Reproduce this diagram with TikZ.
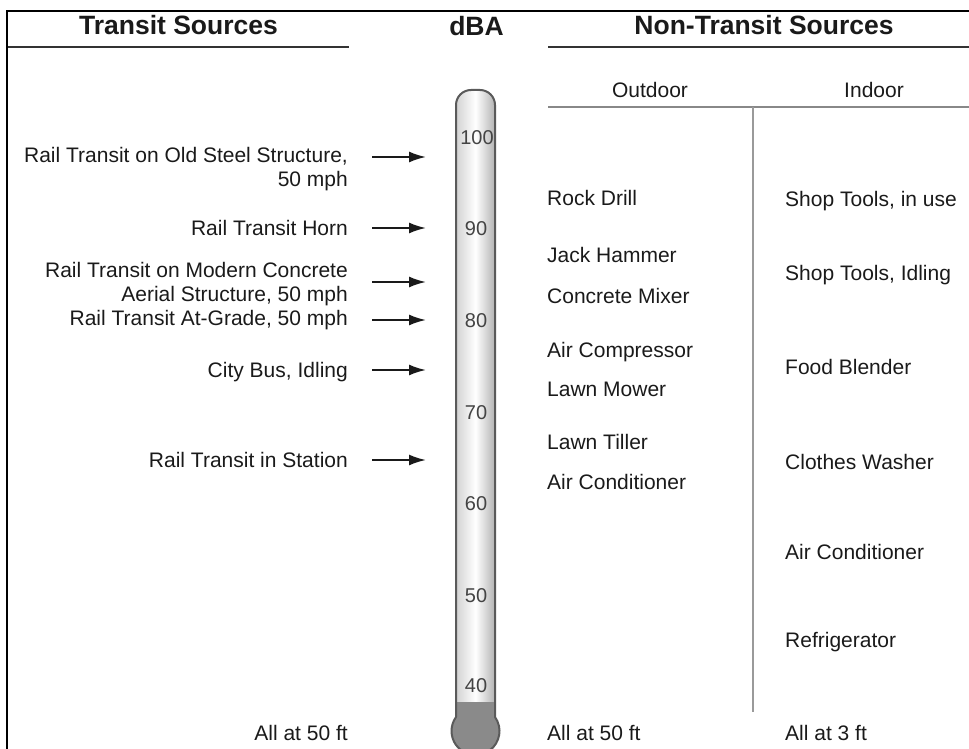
\documentclass[tikz,border=0pt]{standalone}
\usepackage{fontspec}
\setmainfont{Liberation Sans}
\usetikzlibrary{arrows.meta}
\definecolor{txt}{HTML}{1A1A1A}
\definecolor{numc}{HTML}{444444}
\definecolor{merc}{HTML}{8A8A8A}
\definecolor{tubeline}{HTML}{5A5A5A}
\definecolor{rulec}{HTML}{333333}
\definecolor{thinrule}{HTML}{888888}
\begin{document}
\begin{tikzpicture}[x=1pt,y=-1pt,
  lbl/.style={font=\fontsize{21}{24}\selectfont, text=txt, inner sep=0pt},
  lr/.style={lbl, anchor=mid east},
  lr2/.style={lbl, anchor=east, align=right},
  ll/.style={lbl, anchor=mid west},
  lc/.style={lbl, anchor=mid},
  hdr/.style={font=\fontsize{26.5}{30}\selectfont\bfseries, text=txt, inner sep=0pt, anchor=mid},
  scalenum/.style={font=\fontsize{20}{24}\selectfont, text=numc, inner sep=0pt, anchor=mid},
  arr/.style={-{Latex[length=17pt,width=11pt]}, line width=2pt, draw=txt},
  hrule/.style={draw=rulec, line width=1.5pt},
  thin/.style={draw=thinrule, line width=1.3pt},
  vrule/.style={draw=thinrule!85, line width=2pt},
  frame/.style={draw=black, line width=2.5pt}
]
\useasboundingbox (0,0) rectangle (969,749);

% frame
\draw[frame] (7,749) -- (7,11) -- (969,11);

% headers
\node[hdr] (ht) at (178.5,32) {Transit Sources};
\node[hdr] (hd) at (476.5,33) {dBA};
\node[hdr] (hn) at (764,32) {Non-Transit Sources};
\draw[hrule] (8,47) -- (349,47);
\draw[hrule] (548,47) -- (969,47);

\node[lc] (ho) at (650,95) {Outdoor};
\node[lc] (hi) at (874,95) {Indoor};
\draw[thin] (548,107) -- (969,107);
\draw[vrule] (753,107) -- (753,712);

% thermometer
\shade[left color=gray!35, right color=gray!60, middle color=white]
  (456,717) [rounded corners=15pt] -- (456,90) -- (495,90) [sharp corners] -- (495,717) -- cycle;
\fill[merc] (456,702) -- (495,702) -- (495,717)
  arc[start angle=35.7, end angle=-215.7, radius=24pt] -- cycle;
\draw[draw=tubeline, line width=2pt]
  (456,717) [rounded corners=15pt] -- (456,90) -- (495,90) [sharp corners] -- (495,717)
  arc[start angle=35.7, end angle=-215.7, radius=24pt];

\node[scalenum] (s100) at (477,142) {100};
\node[scalenum] (s90) at (476,233) {90};
\node[scalenum] (s80) at (476,325) {80};
\node[scalenum] (s70) at (476,417) {70};
\node[scalenum] (s60) at (476,508) {60};
\node[scalenum] (s50) at (476,600) {50};
\node[scalenum] (s40) at (476,690) {40};

% transit sources
\node[lr2] (l1) at (348,169.5) {Rail Transit on Old Steel Structure,\\50 mph};
\node[lr] (l2) at (348,233) {Rail Transit Horn};
\node[lr2] (l3) at (348,284.5) {Rail Transit on Modern Concrete\\Aerial Structure, 50 mph};
\node[lr] (l4) at (348,323) {Rail Transit At-Grade, 50 mph};
\node[lr] (l5) at (348,375) {City Bus, Idling};
\node[lr] (l6) at (348,465) {Rail Transit in Station};
\node[lr] (b1) at (348,738) {All at 50 ft};

\coordinate (a1s) at (372,157); \coordinate (a1e) at (426,157);
\coordinate (a2s) at (372,228); \coordinate (a2e) at (426,228);
\coordinate (a3s) at (372,282); \coordinate (a3e) at (426,282);
\coordinate (a4s) at (372,320); \coordinate (a4e) at (426,320);
\coordinate (a5s) at (372,370); \coordinate (a5e) at (426,370);
\coordinate (a6s) at (372,460); \coordinate (a6e) at (426,460);
\draw[arr] (a1s) -- (a1e);
\draw[arr] (a2s) -- (a2e);
\draw[arr] (a3s) -- (a3e);
\draw[arr] (a4s) -- (a4e);
\draw[arr] (a5s) -- (a5e);
\draw[arr] (a6s) -- (a6e);

% outdoor
\node[ll] (o1) at (547,203) {Rock Drill};
\node[ll] (o2) at (547,260) {Jack Hammer};
\node[ll] (o3) at (547,301) {Concrete Mixer};
\node[ll] (o4) at (547,355) {Air Compressor};
\node[ll] (o5) at (547,394) {Lawn Mower};
\node[ll] (o6) at (547,447) {Lawn Tiller};
\node[ll] (o7) at (547,487) {Air Conditioner};
\node[ll] (b2) at (547,738) {All at 50 ft};

% indoor
\node[ll] (i1) at (785,204) {Shop Tools, in use};
\node[ll] (i2) at (785,278) {Shop Tools, Idling};
\node[ll] (i3) at (785,372) {Food Blender};
\node[ll] (i4) at (785,467) {Clothes Washer};
\node[ll] (i5) at (785,557) {Air Conditioner};
\node[ll] (i6) at (785,645) {Refrigerator};
\node[ll] (b3) at (785,738) {All at 3 ft};
\end{tikzpicture}
\end{document}
